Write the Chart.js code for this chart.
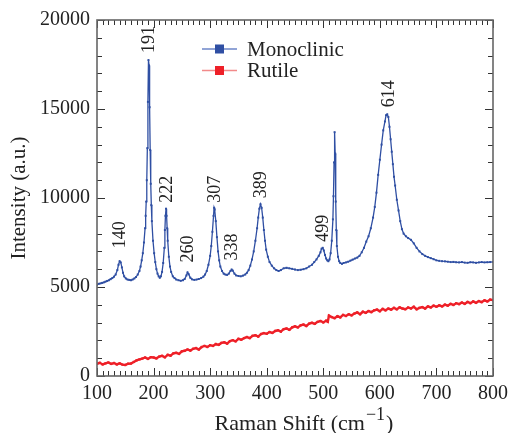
<!DOCTYPE html>
<html>
<head>
<meta charset="utf-8">
<script src="https://cdn.jsdelivr.net/npm/chart.js@4.4.1/dist/chart.umd.min.js"></script>
<style>
html,body{margin:0;padding:0;background:#fff;}
#wrap{width:510px;height:433px;position:relative;}
</style>
</head>
<body>
<div id="wrap"><canvas id="c" width="510" height="433"></canvas></div>
<script>
// ---- Data ----
const monoX = [100,103,106,109,112,115,118,121,124,127,130,133,136,138,140,142,144,146,148,151,154,157,160,163,166,169,172,175,177,179,181,183,185,186,187,188,189,190,191,192,193,194,195,196,197,199,201,203,205,207,209,211,213,215,217,219,220,221,222,223,224,225,227,229,231,234,237,240,244,248,252,255,258,260,262,265,268,272,276,280,284,288,291,294,297,300,302,304,306,307,308,310,312,314,316,318,321,324,327,330,333,336,338,340,343,346,350,354,358,362,365,368,371,374,377,380,383,385,387,389,391,393,395,397,399,402,405,409,413,417,421,425,430,435,440,445,450,455,460,465,470,475,480,484,488,492,495,497,499,501,503,505,507,509,511,513,515,517,518,519,520,521,522,523,524,526,528,530,533,536,540,544,548,552,556,560,564,568,572,576,580,584,588,591,594,597,600,603,606,609,611,613,615,617,619,621,623,625,627,630,633,636,639,642,646,650,655,660,665,670,675,680,685,690,695,700,705,710,715,720,725,730,735,740,745,750,755,760,765,770,775,780,785,790,795,800];
const monoY = [5120,5180,5200,5230,5260,5300,5340,5380,5440,5500,5580,5700,5950,6250,6450,6380,6100,5800,5600,5480,5420,5400,5380,5420,5480,5560,5700,5900,6150,6500,6900,7500,8300,9000,9800,11000,12800,15400,17750,17450,15100,12700,10800,9600,8700,7600,6900,6400,6000,5750,5600,5520,5600,5850,6350,7200,8200,9000,9400,9000,8300,7600,6700,6150,5850,5600,5500,5420,5380,5350,5380,5450,5650,5820,5720,5520,5430,5400,5420,5450,5500,5580,5700,5900,6250,6750,7300,8100,9000,9450,9350,8700,7800,7000,6500,6150,5900,5750,5700,5680,5750,5900,5980,5920,5750,5650,5620,5600,5640,5700,5800,5950,6200,6550,7000,7600,8300,8900,9400,9650,9450,8900,8200,7600,7100,6700,6400,6200,6050,5950,5900,5950,6050,6080,6050,6020,5980,5950,5970,6000,6050,6150,6250,6400,6550,6750,6950,7150,7200,7050,6800,6600,6500,6450,6550,6900,7600,8800,10100,12000,13700,12500,9800,8200,7300,6700,6450,6350,6300,6350,6380,6420,6480,6540,6600,6650,6750,6950,7200,7550,7850,8300,8900,9500,10300,11300,12150,13000,13800,14300,14650,14700,14550,14000,13300,12600,11900,11200,10700,9900,9300,8700,8250,8000,7850,7750,7650,7450,7200,7000,6850,6750,6680,6620,6560,6500,6470,6450,6440,6420,6400,6410,6390,6380,6400,6370,6360,6390,6380,6360,6380,6400,6380,6390,6400,6410];
const rutX = [100,105,110,115,120,125,130,135,140,145,150,155,160,165,170,175,180,185,190,195,200,205,210,215,220,225,230,235,240,245,250,255,260,265,270,275,280,285,290,295,300,305,310,315,320,325,330,335,340,345,350,355,360,365,370,375,380,385,390,395,400,405,410,415,420,425,430,435,440,445,450,455,460,465,470,475,480,485,490,495,500,505,508,510,515,520,525,530,535,540,545,550,555,560,565,570,575,580,585,590,595,600,605,610,615,620,625,630,635,640,645,650,655,660,665,670,675,680,685,690,695,700,705,710,715,720,725,730,735,740,745,750,755,760,765,770,775,780,785,790,795,800];
const rutY = [680,740,650,710,760,680,730,650,710,640,620,690,700,790,880,930,980,1040,960,1060,1040,990,1090,1130,1050,1190,1140,1270,1300,1240,1390,1420,1490,1430,1530,1570,1490,1630,1690,1630,1730,1690,1800,1750,1860,1890,1820,1960,2010,1950,2090,2040,2130,2190,2130,2260,2290,2210,2360,2410,2370,2470,2420,2530,2570,2490,2630,2670,2590,2730,2790,2730,2850,2890,2810,2940,2990,2930,3040,3090,3010,3110,3050,3390,3310,3250,3360,3290,3430,3370,3470,3410,3510,3570,3470,3610,3550,3650,3590,3690,3730,3640,3770,3690,3790,3730,3830,3750,3860,3790,3750,3850,3790,3890,3750,3830,3870,3790,3910,3850,3950,3890,3970,3910,4010,3950,4050,3990,4090,4040,4130,4050,4160,4090,4190,4110,4210,4150,4250,4190,4290,4260];
const seriesNames = ["Monoclinic", "Rutile"];
const peakLabels = [140,191,222,260,307,338,389,499,614];
const xTickLabels = ["100","200","300","400","500","600","700","800"];
const yTickLabels = ["0","5000","10000","15000","20000"];

// ---- Styles ----
const SERIF = '"Liberation Serif", "Times New Roman", serif';
const BLUE = '#2f4fa3';
const RED = '#ee2028';
const labelGap = {140:13, 260:10, 338:9, 191:7, 222:6, 307:5, 389:6, 499:6, 614:7};

function toPts(xs, ys){ return xs.map((x,i)=>({x:x, y:ys[i]})); }

const framePlugin = {
  id:'frame',
  afterDatasetsDraw(chart){
    const {ctx, chartArea:a, scales:{x, y}} = chart;
    ctx.save();
    ctx.strokeStyle = '#333';
    ctx.lineWidth = 1;
    for(let v=100; v<=800; v+=10){
      const px = Math.round(x.getPixelForValue(v))+0.5;
      const L = (v%100===0)?8:5;
      ctx.beginPath();
      ctx.moveTo(px, a.bottom); ctx.lineTo(px, a.bottom-L);
      ctx.moveTo(px, a.top); ctx.lineTo(px, a.top+L);
      ctx.stroke();
    }
    for(let v=0; v<=20000; v+=1000){
      const py = Math.round(y.getPixelForValue(v))+0.5;
      const L = (v%5000===0)?8:5;
      ctx.beginPath();
      ctx.moveTo(a.left, py); ctx.lineTo(a.left+L, py);
      ctx.moveTo(a.right, py); ctx.lineTo(a.right-L, py);
      ctx.stroke();
    }
    ctx.strokeStyle = '#666';
    ctx.lineWidth = 1.6;
    ctx.strokeRect(a.left, a.top, a.right-a.left, a.bottom-a.top);
    ctx.restore();
  },
  afterDraw(chart){
    const {ctx, chartArea:a, scales:{x, y}} = chart;
    const ds = chart.data.datasets;
    ctx.save();
    // peak labels
    ctx.fillStyle = '#222';
    ctx.font = '18px ' + SERIF;
    ctx.textAlign = 'left';
    ctx.textBaseline = 'middle';
    peakLabels.forEach(p=>{
      let mv = 0;
      monoX.forEach((mx,i)=>{ if(Math.abs(mx-p)<=4) mv = Math.max(mv, monoY[i]); });
      const px = x.getPixelForValue(p) + 1;
      const py = y.getPixelForValue(mv) - (labelGap[p]||7);
      ctx.save();
      ctx.translate(px, py);
      ctx.rotate(-Math.PI/2);
      ctx.fillText(String(p), 0, 0);
      ctx.restore();
    });
    // legend
    ds.forEach((d,i)=>{
      const cy = 49 + i*21.5;
      ctx.strokeStyle = d.legendLine;
      ctx.lineWidth = 1.5;
      ctx.beginPath(); ctx.moveTo(202, cy); ctx.lineTo(237, cy); ctx.stroke();
      ctx.fillStyle = d.borderColor;
      ctx.fillRect(219.5-4.5, cy-4.5, 9, 9);
      ctx.fillStyle = '#222';
      ctx.font = '21px ' + SERIF;
      ctx.textAlign = 'left';
      ctx.textBaseline = 'middle';
      ctx.fillText(d.label, 247, cy+1);
    });
    // axis titles
    ctx.fillStyle = '#222';
    ctx.font = '21px ' + SERIF;
    ctx.save();
    ctx.translate(25, (a.top+a.bottom)/2);
    ctx.rotate(-Math.PI/2);
    ctx.textAlign = 'center';
    ctx.textBaseline = 'alphabetic';
    ctx.fillText('Intensity (a.u.)', 0, 0);
    ctx.restore();
    const t1 = 'Raman Shift (cm', t2 = '\u22121', t3 = ')';
    ctx.font = '22px ' + SERIF; const w1 = ctx.measureText(t1).width, w3 = ctx.measureText(t3).width;
    ctx.font = '18px ' + SERIF; const w2 = ctx.measureText(t2).width;
    const total = w1+w2+w3+2;
    let sx = 304 - total/2;
    const by = 430;
    ctx.textAlign = 'left'; ctx.textBaseline = 'alphabetic';
    ctx.font = '22px ' + SERIF; ctx.fillText(t1, sx, by);
    ctx.font = '18px ' + SERIF; ctx.fillText(t2, sx+w1+1, by-10);
    ctx.font = '22px ' + SERIF; ctx.fillText(t3, sx+w1+w2+2, by);
    ctx.restore();
  }
};

new Chart(document.getElementById('c'), {
  type:'line',
  data:{
    datasets:[
      {label:seriesNames[0], data:toPts(monoX, monoY), borderColor:BLUE, backgroundColor:BLUE, legendLine:'#6d86c8',
       borderWidth:1.3, pointRadius:1.4, pointStyle:'rect', pointBorderWidth:0, tension:0, fill:false},
      {label:seriesNames[1], data:toPts(rutX, rutY), borderColor:RED, backgroundColor:RED, legendLine:'#f28a8a',
       borderWidth:2.4, pointRadius:1.6, pointStyle:'rect', pointBorderWidth:0, tension:0, fill:false}
    ]
  },
  options:{
    responsive:false,
    animation:false,
    devicePixelRatio:1,
    layout:{autoPadding:false, padding:{top:20, right:17, left:0, bottom:0}},
    plugins:{legend:{display:false}, tooltip:{enabled:false}},
    scales:{
      x:{type:'linear', min:100, max:800,
         afterFit(s){ s.height = 57; s.paddingLeft = 0; s.paddingRight = 0; },
         grid:{display:false, drawTicks:false}, border:{display:false},
         ticks:{stepSize:100, padding:6, color:'#222', font:{family:SERIF, size:20},
                callback:(v)=>{ const i = xTickLabels.indexOf(String(v)); return i>=0 ? xTickLabels[i] : ''; }, maxRotation:0}},
      y:{type:'linear', min:0, max:20000,
         afterFit(s){ s.width = 97; s.paddingTop = 0; s.paddingBottom = 0; },
         grid:{display:false, drawTicks:false}, border:{display:false},
         ticks:{stepSize:5000, padding:7, color:'#222', font:{family:SERIF, size:20},
                callback:(v)=>{ const i = yTickLabels.indexOf(String(v)); return i>=0 ? yTickLabels[i] : ''; }}}
    }
  },
  plugins:[framePlugin]
});
</script>
</body>
</html>
